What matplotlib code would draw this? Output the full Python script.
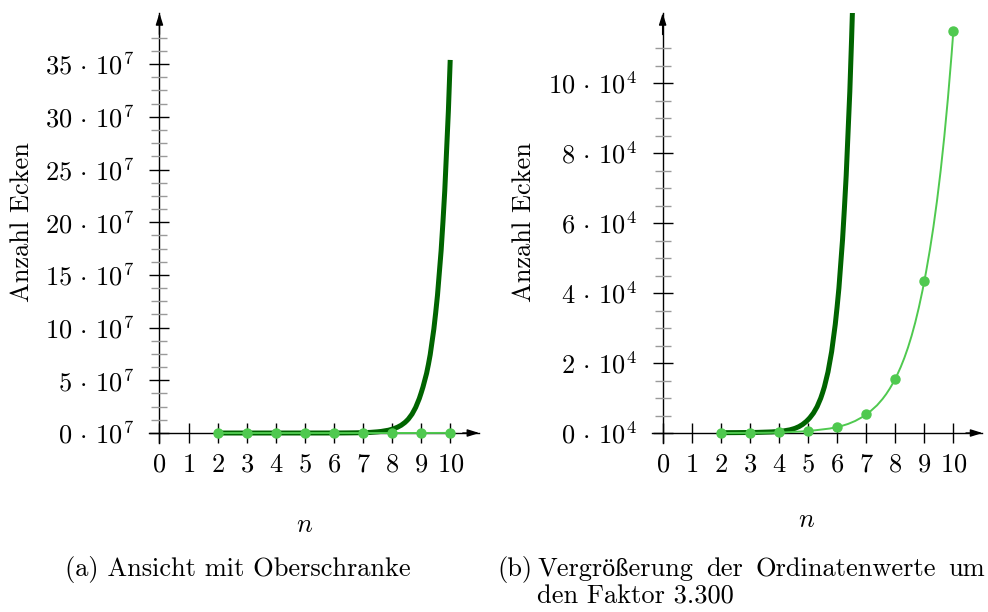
import numpy as np
import matplotlib.pyplot as plt
from matplotlib.path import Path
from matplotlib.patches import PathPatch
from matplotlib.ticker import FixedLocator, FuncFormatter

plt.rcParams['mathtext.fontset'] = 'cm'
plt.rcParams['font.family'] = ['cmr10', 'Liberation Serif', 'DejaVu Serif']
plt.rcParams['axes.unicode_minus'] = False

# Oberschranke (upper bound), sampled along n
bound_n = [2, 3, 4, 4.5, 5, 5.5, 6, 6.25, 6.5, 7, 7.5, 8, 8.5, 9, 9.25, 9.5, 9.75, 10]
bound_vals = [100, 150, 450, 1200, 3800, 11500, 36000, 64000, 113000, 3.6e5, 1.13e6,
              3.6e6, 1.15e7, 3.8e7, 6.5e7, 1.14e8, 2.0e8, 3.54e8]

# gezaehlte Ecken
count_n = [2, 3, 4, 5, 6, 7, 8, 9, 10]
count_vals = [10, 40, 150, 600, 1700, 5300, 15500, 43400, 115000]

x_ticks = list(range(0, 11))

DARK = '#006400'
LIGHT = '#4fc94f'
FS = 19


def smooth_path(xs, ys):
    # cubic Hermite through the points (slopes taken in log space), as bezier segments
    x = np.asarray(xs, float)
    y = np.asarray(ys, float)
    ly = np.log(y)
    g = np.empty_like(y)
    g[0] = (ly[1] - ly[0]) / (x[1] - x[0])
    g[-1] = (ly[-1] - ly[-2]) / (x[-1] - x[-2])
    g[1:-1] = (ly[2:] - ly[:-2]) / (x[2:] - x[:-2])
    m = y * g
    verts = [(x[0], y[0])]
    codes = [Path.MOVETO]
    for i in range(len(x) - 1):
        h = x[i + 1] - x[i]
        verts += [(x[i] + h / 3, y[i] + h / 3 * m[i]),
                  (x[i + 1] - h / 3, y[i + 1] - h / 3 * m[i + 1]),
                  (x[i + 1], y[i + 1])]
        codes += [Path.CURVE4] * 3
    return Path(verts, codes)


def setup(ax, ylim, majors, minors, exp):
    ax.set_xlim(-0.35, 11)
    ax.set_ylim(*ylim)
    for s in ['top', 'right']:
        ax.spines[s].set_visible(False)
    for s in ['left', 'bottom']:
        ax.spines[s].set_position(('data', 0))
        ax.spines[s].set_linewidth(1.0)
        ax.spines[s].set_zorder(1)
    ax.xaxis.set_major_locator(FixedLocator(x_ticks))
    ax.xaxis.set_major_formatter(FuncFormatter(lambda v, p: rf'${v:.0f}$'))
    ax.yaxis.set_major_locator(FixedLocator(majors))
    ax.yaxis.set_minor_locator(FixedLocator(minors))
    scale = 10 ** exp
    ax.yaxis.set_major_formatter(
        FuncFormatter(lambda v, p: rf'${v / scale:.0f}\,\cdot\,10^{{{exp}}}$'))
    ax.tick_params(which='major', direction='inout', length=15, width=1.0,
                   color='k', labelsize=FS)
    ax.tick_params(axis='x', which='major', pad=7)
    ax.tick_params(axis='y', which='major', pad=11)
    ax.tick_params(axis='y', which='minor', direction='inout', length=11,
                   width=1.0, color='#9a9a9a')
    # arrow heads on both axis lines
    arrow = dict(arrowstyle='-|>,head_length=0.7,head_width=0.22', color='k',
                 lw=1.0, shrinkA=0, shrinkB=0)
    ax.annotate('', xy=(1, 0), xycoords=('axes fraction', 'data'),
                xytext=(0.95, 0), textcoords=('axes fraction', 'data'),
                arrowprops=arrow, annotation_clip=False)
    ax.annotate('', xy=(0, 1), xycoords=('data', 'axes fraction'),
                xytext=(0, 0.95), textcoords=('data', 'axes fraction'),
                arrowprops=arrow, annotation_clip=False)


def draw(ax):
    ax.add_patch(PathPatch(smooth_path(bound_n, bound_vals), fill=False,
                           edgecolor=DARK, lw=3.6, zorder=3))
    ax.add_patch(PathPatch(smooth_path(count_n, count_vals), fill=False,
                           edgecolor=LIGHT, lw=1.4, zorder=4))
    ax.plot(count_n, count_vals, 'o', color=LIGHT, ms=6.5, zorder=5,
            clip_on=False)


fig = plt.figure(figsize=(9.88, 6.12), dpi=100)
ax_a = fig.add_axes([0.1511, 0.2761, 0.334, 0.7026])
ax_b = fig.add_axes([0.6604, 0.2761, 0.334, 0.7026])

setup(ax_a, (-0.95e7, 39.85e7), np.arange(0, 36e7, 5e7),
      np.arange(0, 38e7, 1.25e7), 7)
setup(ax_b, (-0.286e4, 12.0e4), np.arange(0, 11e4, 2e4),
      np.arange(0, 11.1e4, 0.5e4), 4)
draw(ax_a)
draw(ax_b)

# axis titles
fig.text(22 / 988, 0.637, 'Anzahl Ecken', rotation=90, ha='center',
         va='center', fontsize=FS)
fig.text(524 / 988, 0.637, 'Anzahl Ecken', rotation=90, ha='center',
         va='center', fontsize=FS)
fig.text(305 / 988, 0.1422, '$n$', ha='center', va='center', fontsize=FS)
fig.text(807 / 988, 0.1503, '$n$', ha='center', va='center', fontsize=FS)

# sub captions
fig.text(65 / 988, 0.0588, '(a) Ansicht mit Oberschranke', fontsize=FS,
         va='baseline')
fig.text(497 / 988, 0.0588, '(b)', fontsize=FS, va='baseline')

# first line of (b) is set justified between x=537 and x=985
words = ['Vergrößerung', 'der', 'Ordinatenwerte', 'um']
renderer = fig.canvas.get_renderer()
texts = [fig.text(0, 0.0588, w, fontsize=FS, va='baseline') for w in words]
widths = [t.get_window_extent(renderer).width for t in texts]
gap = (985 - 537 - sum(widths)) / (len(words) - 1)
xp = 537
for t, w in zip(texts, widths):
    t.set_x(xp / 988)
    xp += w + gap
fig.text(537 / 988, 0.0147, 'den Faktor 3.300', fontsize=FS, va='baseline')

fig.savefig('out.png', dpi=100)
